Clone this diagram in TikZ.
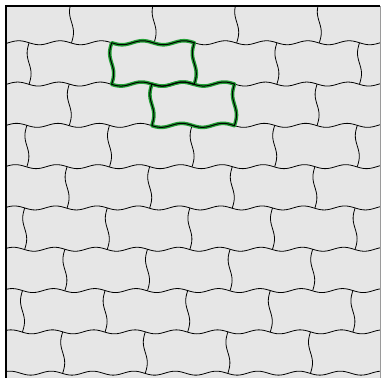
\documentclass[tikz,border=0pt]{standalone}
\usepackage{tikz}
\definecolor{paving}{HTML}{E6E6E6}
\definecolor{hlgreen}{HTML}{22A035}
\definecolor{edgegrey}{HTML}{9A9A9A}

% outline of one stone: row, left x, right x
\newcommand\stoneoutline[3]{%
  plot[domain=#2:#3, samples=60, smooth] (\x,{hy(#1,\x)})
  -- plot[domain=0:1, samples=21, smooth] ({#3-2*sin(360*\x)},{rowy(#1)+41.3*\x})
  -- plot[domain=#3:#2, samples=60, smooth] (\x,{hy(#1+1,\x)})
  -- plot[domain=1:0, samples=21, smooth] ({#2-2*sin(360*\x)},{rowy(#1)+41.3*\x}) -- cycle}

\begin{document}
\begin{tikzpicture}[x=1pt, y=-1pt,
  declare function={offs(\r)=71.5+40.2*\r; rowy(\r)=1.45+41.3*\r;
    hy(\k,\x)=rowy(\k)-2*cos(8.7167*(\x-offs(\k)+10.325));},
  joint/.style={black, line width=0.8pt},
  hltile/.style={draw=hlgreen, line width=3.6pt, line join=round},
  hlcore/.style={draw=black, line width=1pt, line join=round}]
\useasboundingbox (0,0) rectangle (381,378);
\fill[paving] (6,6) rectangle (380,378);
\begin{scope}
  \clip (6,6) rectangle (380,378);
  % bed joints
  \foreach \k in {0,...,9}
    \draw[joint] plot[domain=0:381, samples=150, smooth] (\x,{hy(\k,\x)});
  % head joints
  \foreach \r in {0,...,8}{
    \pgfmathsetmacro\xs{mod(offs(\r),82.6)}
    \foreach \j in {0,...,4}
      \draw[joint] plot[domain=0:1, samples=21, smooth] ({\xs+82.6*\j-2*sin(360*\x)},{rowy(\r)+41.3*\x});
  }
  % highlighted stones
  \draw[hltile] \stoneoutline{1}{111.7}{194.3};
  \draw[hltile] \stoneoutline{2}{151.9}{234.5};
  \draw[hlcore] \stoneoutline{1}{111.7}{194.3};
  \draw[hlcore] \stoneoutline{2}{151.9}{234.5};
\end{scope}
% frame
\draw[black, line width=1.8pt] (6,378) -- (6,5.8) -- (380,5.8);
\draw[edgegrey, line width=0.8pt] (380,6) -- (380,378);
\end{tikzpicture}
\end{document}
